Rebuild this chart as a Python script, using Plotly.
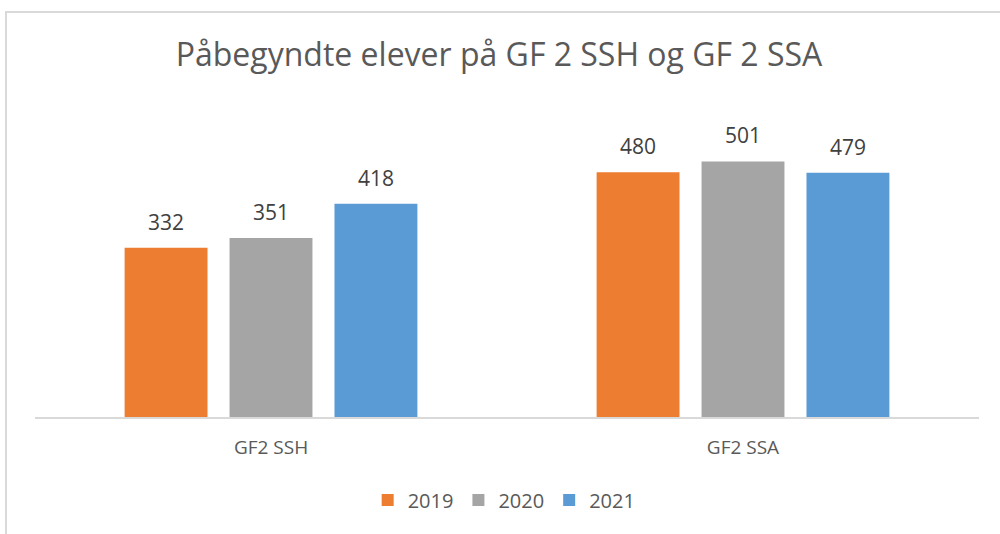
import plotly.graph_objects as go

categories = ["GF2 SSH", "GF2 SSA"]
years = ["2019", "2020", "2021"]
values = {
    "2019": [332, 480],
    "2020": [351, 501],
    "2021": [418, 479],
}
colors = {"2019": "#ED7D31", "2020": "#A5A5A5", "2021": "#5B9BD5"}
title_text = "Påbegyndte elever på GF 2 SSH og GF 2 SSA"

FONT = "Open Sans, Liberation Sans, sans-serif"

fig = go.Figure()
for yr in years:
    fig.add_trace(go.Bar(
        name=yr, x=categories, y=values[yr],
        marker=dict(color=colors[yr], line=dict(width=0)),
    ))

# data labels
offsets = {"2019": -105, "2020": 0, "2021": 105}
for yr in years:
    for c, v in zip(categories, values[yr]):
        fig.add_annotation(x=c, y=v, text=str(v), showarrow=False,
                           xshift=offsets[yr], yshift=10, yanchor="bottom",
                           font=dict(family=FONT, size=21, color="#404040"))

fig.add_shape(type="rect", xref="paper", yref="paper",
              x0=-0.0307, x1=1.2, y0=-0.6, y1=1.3235,
              line=dict(color="#D9D9D9", width=2), layer="below")

fig.update_layout(
    width=1000, height=534,
    margin=dict(l=35, r=21, t=111, b=117),
    paper_bgcolor="white", plot_bgcolor="white",
    title=dict(text=title_text, x=0.499, xanchor="center", y=0.897, yanchor="middle",
               font=dict(family=FONT, size=32, color="#595959")),
    barmode="group", bargap=0.333, bargroupgap=0.21,
    showlegend=True,
    legend=dict(orientation="h", x=0.497, xanchor="center", y=-0.271, yanchor="middle",
                font=dict(family=FONT, size=20, color="#595959"),
                itemwidth=30, traceorder="normal"),
    font=dict(family=FONT),
)
fig.update_xaxes(showline=True, linecolor="#D9D9D9", linewidth=1.5,
                 tickfont=dict(family=FONT, size=19, color="#595959"),
                 ticks="", ticklabelstandoff=12, showgrid=False, zeroline=False)
fig.update_yaxes(range=[0, 600], visible=False, showgrid=False, zeroline=False)

fig.write_html("out.html", config={"displayModeBar": False},
               post_script="document.body.style.margin='0';")
